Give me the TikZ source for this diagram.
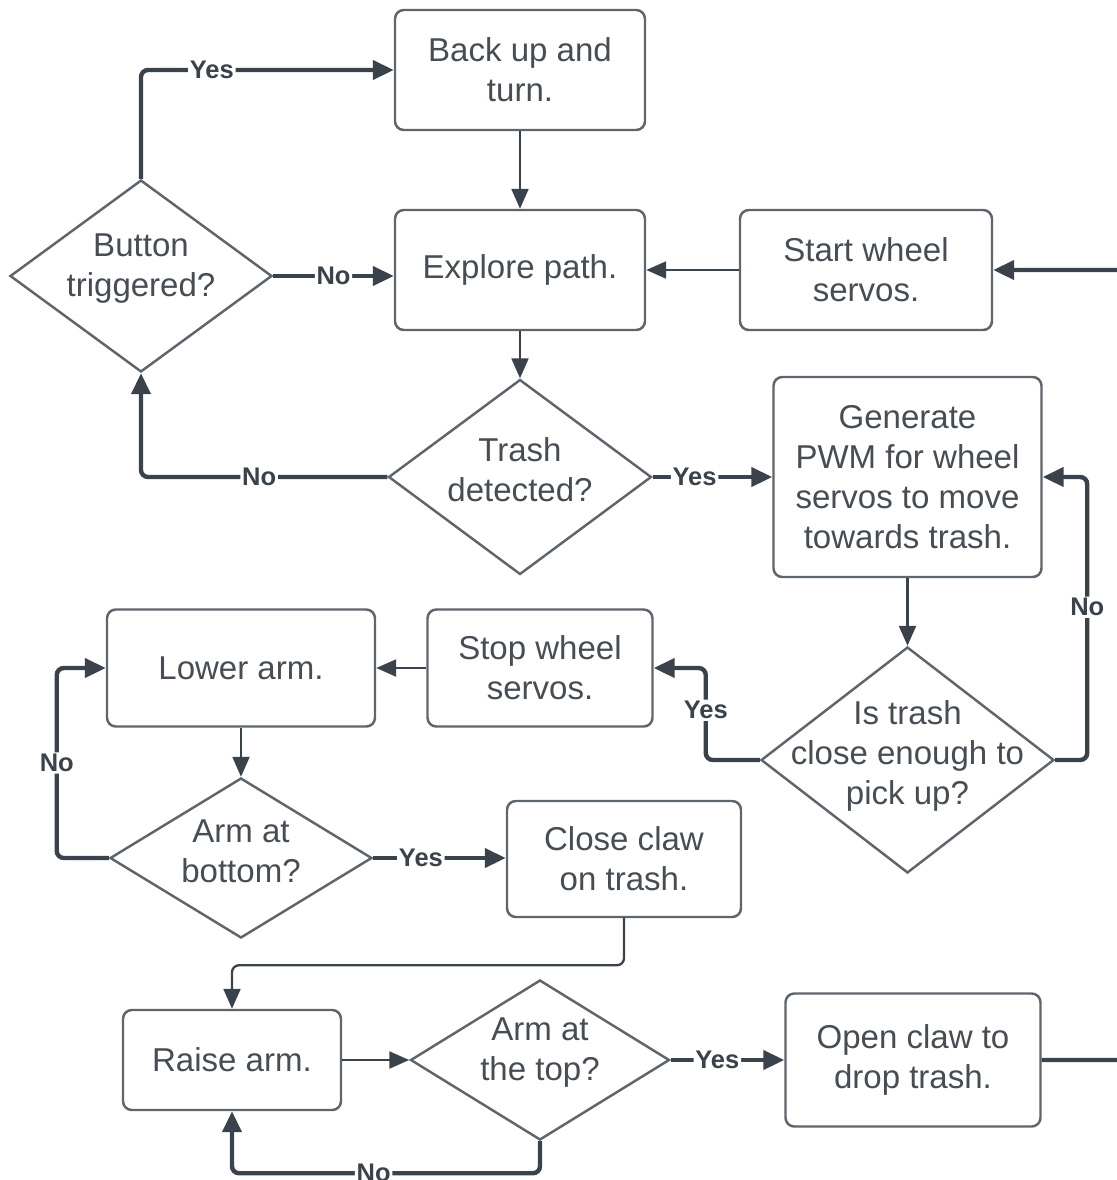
\documentclass[tikz,border=0pt]{standalone}
\usepackage{fontspec}
\setmainfont{Liberation Sans}
\usetikzlibrary{positioning, arrows.meta, shapes.geometric}
\definecolor{fcLine}{HTML}{3A424C}
\definecolor{fcBorder}{HTML}{5F656D}
\definecolor{fcText}{HTML}{474D55}

\begin{document}
\begin{tikzpicture}[
  box/.style={draw=fcBorder, fill=white, rounded corners=5pt, line width=1.4pt, align=center, text=fcText, font=\fontsize{18.8}{22.8}\selectfont},
  dec/.style={diamond, draw=fcBorder, fill=white, line width=1.4pt, inner sep=0pt},
  dtxt/.style={align=center, text=fcText, font=\fontsize{18.8}{22.8}\selectfont, yshift=0.14cm},
  flow/.style={-{Triangle[length=0.4cm, width=0.34cm]}, fcLine, line width=1.3pt, rounded corners=4pt},
  hard/.style={-{Triangle[length=0.42cm, width=0.38cm]}, fcLine, line width=2.5pt, rounded corners=4pt},
  yn/.style={font=\bfseries\fontsize{14.5}{16}\selectfont, text=fcLine, fill=white, inner sep=1pt}]
\clip (0,0) rectangle (22.34,-23.6);
\node[box, minimum width=5cm, minimum height=2.4cm] (back) at (10.40,-1.40) {Back up and\\turn.};
\node[box, minimum width=5cm, minimum height=2.4cm] (explore) at (10.40,-5.40) {Explore path.};
\node[box, minimum width=5.04cm, minimum height=2.4cm] (start) at (17.32,-5.40) {Start wheel\\servos.};
\node[dec, minimum width=5.24cm, minimum height=3.84cm, label={[dtxt]center:Button\\triggered?}] (button) at (2.82,-5.52) {};
\node[dec, minimum width=5.26cm, minimum height=3.9cm, label={[dtxt]center:Trash\\detected?}] (trash) at (10.40,-9.54) {};
\node[box, minimum width=5.36cm, minimum height=4cm] (pwm) at (18.15,-9.54) {Generate\\PWM for wheel\\servos to move\\towards trash.};
\node[dec, minimum width=5.86cm, minimum height=4.52cm, label={[dtxt, yshift=-0.06cm]center:Is trash\\close enough to\\pick up?}] (near) at (18.15,-15.20) {};
\node[box, minimum width=4.5cm, minimum height=2.34cm] (stop) at (10.80,-13.36) {Stop wheel\\servos.};
\node[box, minimum width=5.36cm, minimum height=2.34cm] (lower) at (4.82,-13.36) {Lower arm.};
\node[dec, minimum width=5.24cm, minimum height=3.2cm, label={[dtxt]center:Arm at\\bottom?}] (bottom) at (4.82,-17.16) {};
\node[box, minimum width=4.68cm, minimum height=2.32cm] (claw) at (12.48,-17.18) {Close claw\\on trash.};
\node[box, minimum width=4.36cm, minimum height=2cm] (raise) at (4.64,-21.20) {Raise arm.};
\node[dec, minimum width=5.18cm, minimum height=3.2cm, label={[dtxt]center:Arm at\\the top?}] (top) at (10.80,-21.20) {};
\node[box, minimum width=5.1cm, minimum height=2.66cm] (drop) at (18.26,-21.20) {Open claw to\\drop trash.};
% plain steps
\draw[flow] (back) -- (explore);
\draw[flow] (explore) -- (trash);
\draw[flow] (start) -- (explore);
\draw[flow] (pwm) -- (near);
\draw[flow] (stop) -- (lower);
\draw[flow] (lower) -- (bottom);
\draw[flow] (claw.south) -- ++(0,-0.94) -| (raise.north);
\draw[flow] (raise) -- (top);
% decisions
\draw[hard] (button.north) |- (back.west) node[yn, pos=0.64]{Yes};
\draw[hard] (button.east) -- (button.east -| explore.west) node[yn, midway]{No};
\draw[hard] (trash.west) -| (button.south) node[yn, pos=0.26]{No};
\draw[hard] (trash.east) -- (pwm.west) node[yn, pos=0.35]{Yes};
\draw[hard] (near.east) -- ++(0.64,0) |- (pwm.east) node[yn, pos=0.27]{No};
\draw[hard] (near.west) -- ++(-1.08,0) |- (stop.east) node[yn, pos=0.27]{Yes};
\draw[hard] (bottom.west) -- ++(-1.04,0) |- (lower.west) node[yn, pos=0.25]{No};
\draw[hard] (bottom.east) -- (bottom.east -| claw.west) node[yn, pos=0.36]{Yes};
\draw[hard] (top.east) -- (drop.west) node[yn, pos=0.41]{Yes};
\draw[hard] (top.south) -- ++(0,-0.64) -| (raise.south) node[yn, pos=0.27]{No};
\draw[hard] (drop.east) -- ++(2,0) |- (start.east);
\end{tikzpicture}
\end{document}
